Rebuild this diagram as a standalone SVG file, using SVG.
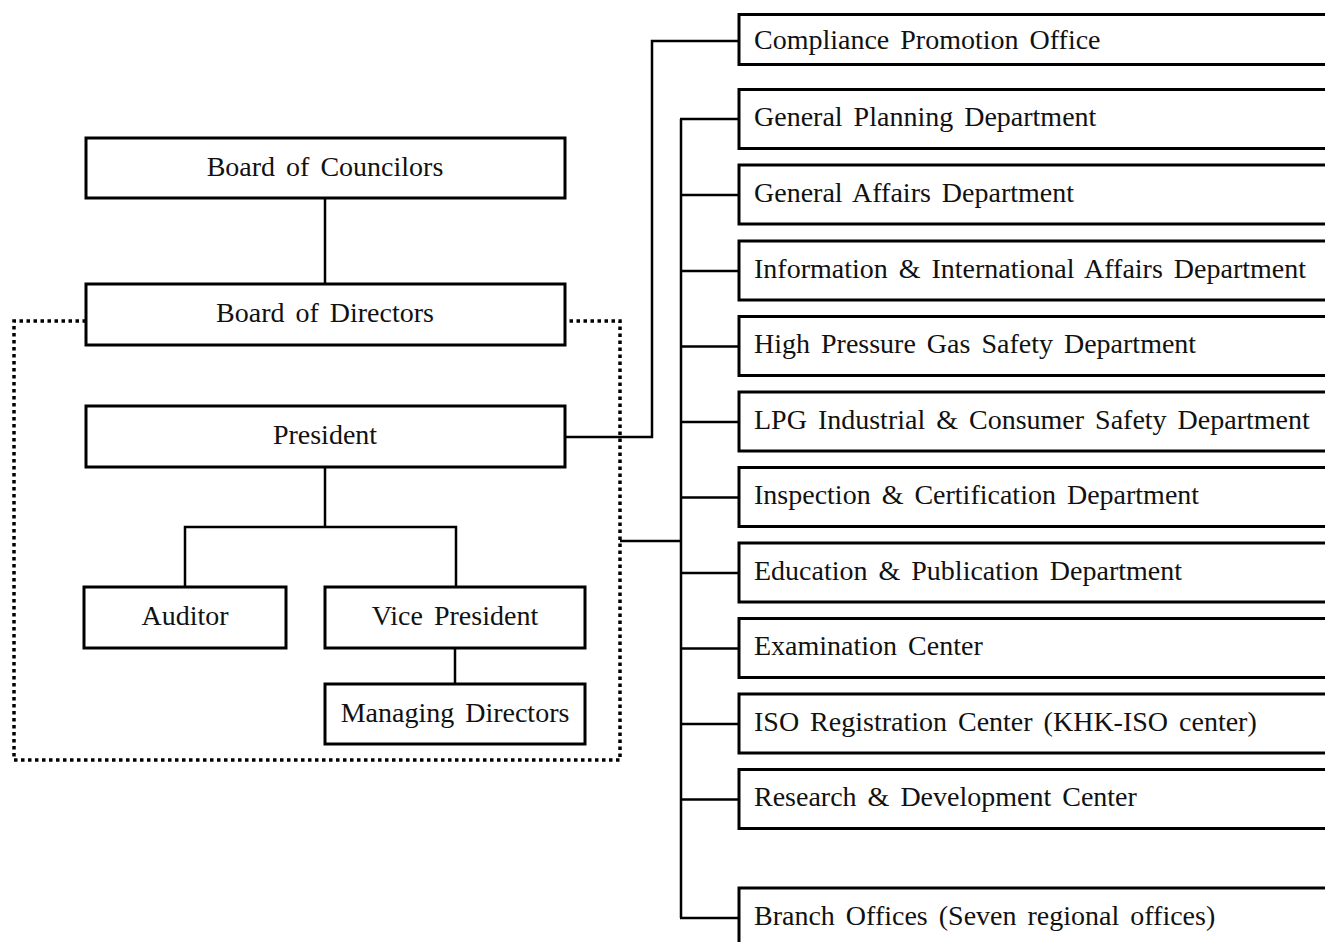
<svg xmlns="http://www.w3.org/2000/svg" width="1325" height="942" viewBox="0 0 1325 942">
<style>
.box{fill:#fff;stroke:#000;stroke-width:3}
.ln{fill:none;stroke:#000;stroke-width:2.5}
.dot{fill:none;stroke:#000;stroke-width:3.5;stroke-dasharray:3.5 3.5}
text{font-family:"Liberation Serif","Times New Roman",serif;font-size:28px;fill:#111;word-spacing:4px}
.c{text-anchor:middle}
</style>
<rect width="1325" height="942" fill="#fff"/>
<g id="connectors">
<line class="ln" x1="325" y1="198" x2="325" y2="284"/>
<path class="dot" d="M86 321 H14 V760 H620 V321 H565"/>
<polyline class="ln" points="565,437 652,437 652,41 739,41"/>
<polyline class="ln" points="325,467 325,527"/>
<polyline class="ln" points="185,587 185,527 456,527 456,587"/>
<line class="ln" x1="455" y1="648" x2="455" y2="684"/>
<line class="ln" x1="620" y1="541" x2="681" y2="541"/>
<line class="ln" x1="681" y1="119" x2="681" y2="918"/>
<line class="ln" x1="680" y1="119" x2="739" y2="119"/>
<line class="ln" x1="680" y1="195" x2="739" y2="195"/>
<line class="ln" x1="680" y1="271" x2="739" y2="271"/>
<line class="ln" x1="680" y1="346.5" x2="739" y2="346.5"/>
<line class="ln" x1="680" y1="422" x2="739" y2="422"/>
<line class="ln" x1="680" y1="497.5" x2="739" y2="497.5"/>
<line class="ln" x1="680" y1="573" x2="739" y2="573"/>
<line class="ln" x1="680" y1="648.5" x2="739" y2="648.5"/>
<line class="ln" x1="680" y1="724" x2="739" y2="724"/>
<line class="ln" x1="680" y1="799.5" x2="739" y2="799.5"/>
<line class="ln" x1="680" y1="918" x2="739" y2="918"/>
</g>
<g id="board-councilors"><rect class="box" x="86" y="138" width="479" height="60"/><text class="c" x="325" y="176">Board of Councilors</text></g>
<g id="board-directors"><rect class="box" x="86" y="284" width="479" height="61"/><text class="c" x="325" y="322">Board of Directors</text></g>
<g id="president"><rect class="box" x="86" y="406" width="479" height="61"/><text class="c" x="325" y="444">President</text></g>
<g id="auditor"><rect class="box" x="84" y="587" width="202" height="61"/><text class="c" x="185" y="625">Auditor</text></g>
<g id="vice-president"><rect class="box" x="325" y="587" width="260" height="61"/><text class="c" x="455" y="625">Vice President</text></g>
<g id="managing-directors"><rect class="box" x="325" y="684" width="260" height="60"/><text class="c" x="455" y="722">Managing Directors</text></g>
<g id="compliance"><rect class="box" x="739" y="14.5" width="600" height="50"/><text x="754" y="49">Compliance Promotion Office</text></g>
<g id="general-planning"><rect class="box" x="739" y="89.5" width="600" height="59"/><text x="754" y="126">General Planning Department</text></g>
<g id="general-affairs"><rect class="box" x="739" y="165" width="600" height="59"/><text x="754" y="202">General Affairs Department</text></g>
<g id="information"><rect class="box" x="739" y="241" width="600" height="59"/><text x="754" y="278">Information &amp; International Affairs Department</text></g>
<g id="high-pressure"><rect class="box" x="739" y="316.5" width="600" height="59"/><text x="754" y="353">High Pressure Gas Safety Department</text></g>
<g id="lpg"><rect class="box" x="739" y="392" width="600" height="59"/><text x="754" y="429">LPG Industrial &amp; Consumer Safety Department</text></g>
<g id="inspection"><rect class="box" x="739" y="467.5" width="600" height="59"/><text x="754" y="504">Inspection &amp; Certification Department</text></g>
<g id="education"><rect class="box" x="739" y="543" width="600" height="59"/><text x="754" y="580">Education &amp; Publication Department</text></g>
<g id="examination"><rect class="box" x="739" y="618.5" width="600" height="59"/><text x="754" y="655">Examination Center</text></g>
<g id="iso"><rect class="box" x="739" y="694" width="600" height="59"/><text x="754" y="731">ISO Registration Center (KHK-ISO center)</text></g>
<g id="research"><rect class="box" x="739" y="769.5" width="600" height="59"/><text x="754" y="806">Research &amp; Development Center</text></g>
<g id="branch"><rect class="box" x="739" y="888" width="600" height="80"/><text x="754" y="925">Branch Offices (Seven regional offices)</text></g>
</svg>
